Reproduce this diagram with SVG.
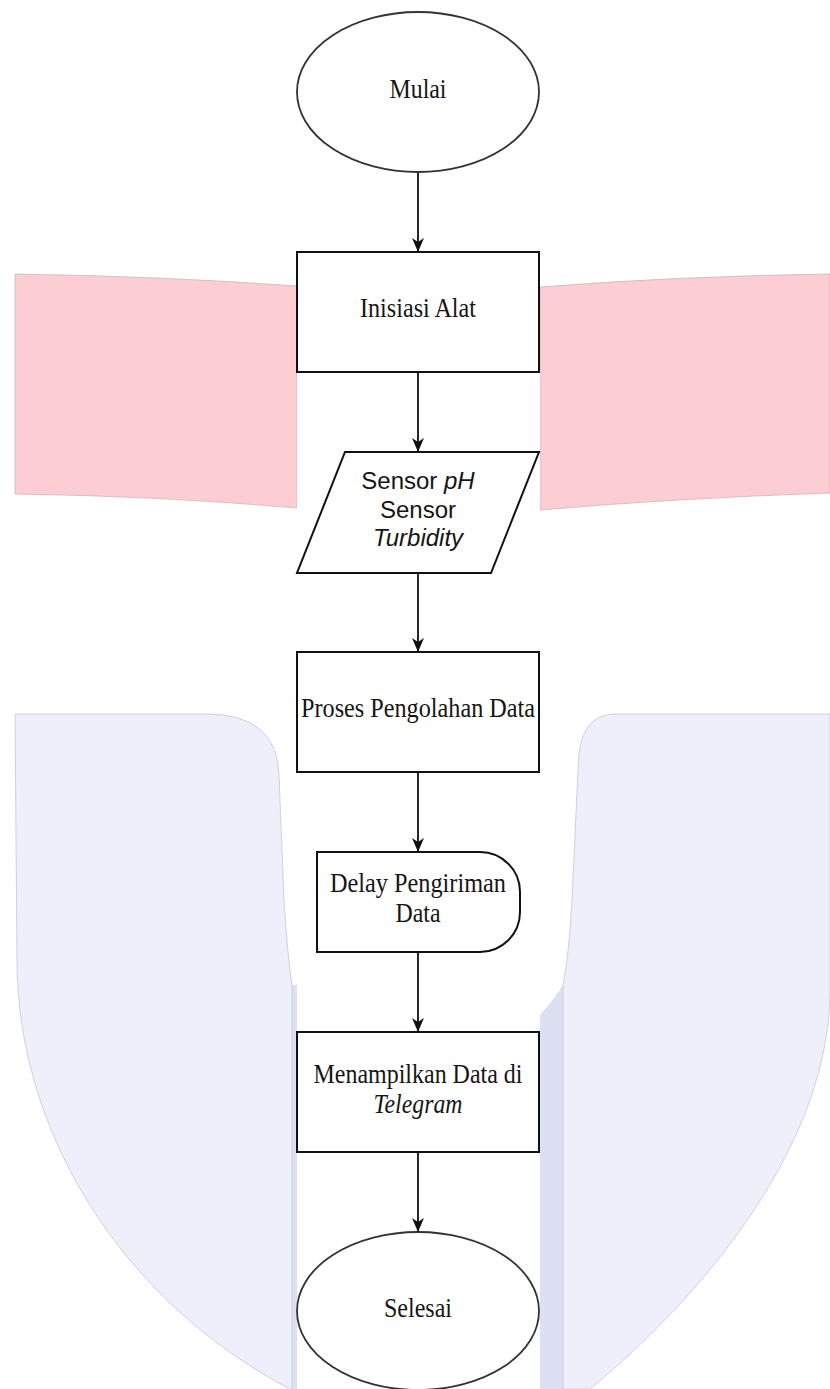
<svg xmlns="http://www.w3.org/2000/svg" width="830" height="1389" viewBox="0 0 830 1389">
<style>
.bgpink{fill:#FCCED3;stroke:#c4b0b3;stroke-width:0.7}
.bglav{fill:#EFEFFB;stroke:#c0c0d0;stroke-width:0.7}
.bgdark{fill:#DCE0F2;stroke:none}
.node{fill:#ffffff;stroke:#111111;stroke-width:2}
.oval{fill:#ffffff;stroke:#333333;stroke-width:1.8}
.serif{font-family:"Liberation Serif","Times New Roman",serif;font-size:27px;fill:#151515;text-anchor:middle}
.sans{font-family:"Liberation Sans",Arial,sans-serif;font-size:24px;fill:#151515;text-anchor:middle}
.conn{stroke:#111111;stroke-width:1.8;fill:none;marker-end:url(#arrow)}
</style>
<defs>
<marker id="arrow" markerUnits="userSpaceOnUse" markerWidth="16" markerHeight="14" refX="14" refY="7" orient="auto">
<path d="M0,1 L14,7 L0,13 L4,7 Z" fill="#111111"/>
</marker>
</defs>
<rect x="0" y="0" width="830" height="1389" fill="#ffffff"/>
<g id="background">
<path class="bgpink" d="M15,274 Q160,276 297,286 L297,508 Q160,496 15,494 Z"/>
<path class="bgpink" d="M540,287 Q680,276 830,274 L830,493 Q680,498 540,510 Z"/>
<path class="bgdark" d="M290,985 L297,985 L297,1389 L290,1389 Z"/>
<path class="bgdark" d="M540,1389 V1015 Q552,1002 563,985 V1389 Z"/>
<path class="bglav" d="M15,714 H207 Q277,714 279,775 L284,900 Q288,960 292,985 L292,1389 L290,1389 C120,1300 17,1130 17,960 Z"/>
<path class="bglav" d="M830,714 H615 Q578,714 578,770 L572,900 Q569,955 563,985 L563,1389 L590,1389 C710,1290 830,1140 830,990 Z"/>
<rect x="297" y="0" width="243" height="1389" fill="#ffffff"/>
</g>
<g id="connectors">
<line class="conn" x1="418" y1="172" x2="418" y2="252"/>
<line class="conn" x1="418" y1="372" x2="418" y2="452"/>
<line class="conn" x1="418" y1="573" x2="418" y2="652"/>
<line class="conn" x1="418" y1="772" x2="418" y2="852"/>
<line class="conn" x1="418" y1="952" x2="418" y2="1032"/>
<line class="conn" x1="418" y1="1152" x2="418" y2="1232"/>
</g>
<g id="mulai">
<ellipse class="oval" cx="418" cy="92" rx="121" ry="80"/>
<text class="serif" x="418" y="98" textLength="57" lengthAdjust="spacingAndGlyphs">Mulai</text>
</g>
<g id="inisiasi">
<rect class="node" x="297" y="252" width="242" height="120"/>
<text class="serif" x="418" y="317" textLength="116" lengthAdjust="spacingAndGlyphs">Inisiasi Alat</text>
</g>
<g id="sensor">
<path class="node" d="M345,452 L539,452 L491,573 L297,573 Z"/>
<text class="sans" x="418" y="489">Sensor <tspan font-style="italic">pH</tspan></text>
<text class="sans" x="418" y="518">Sensor</text>
<text class="sans" x="418" y="546" font-style="italic">Turbidity</text>
</g>
<g id="proses">
<rect class="node" x="297" y="652" width="242" height="120"/>
<text class="serif" x="418" y="717" textLength="234" lengthAdjust="spacingAndGlyphs">Proses Pengolahan Data</text>
</g>
<g id="delay">
<path class="node" d="M317,852 H480 A40,40 0 0 1 520,892 V912 A40,40 0 0 1 480,952 H317 Z"/>
<text class="serif" x="418" y="892" textLength="176" lengthAdjust="spacingAndGlyphs">Delay Pengiriman</text>
<text class="serif" x="418" y="922" textLength="45" lengthAdjust="spacingAndGlyphs">Data</text>
</g>
<g id="menampilkan">
<rect class="node" x="297" y="1032" width="242" height="120"/>
<text class="serif" x="418" y="1083" textLength="209" lengthAdjust="spacingAndGlyphs">Menampilkan Data di</text>
<text class="serif" x="418" y="1113" font-style="italic" textLength="89" lengthAdjust="spacingAndGlyphs">Telegram</text>
</g>
<g id="selesai">
<ellipse class="oval" cx="418" cy="1311" rx="121" ry="79"/>
<text class="serif" x="418" y="1317" textLength="68" lengthAdjust="spacingAndGlyphs">Selesai</text>
</g>
</svg>
